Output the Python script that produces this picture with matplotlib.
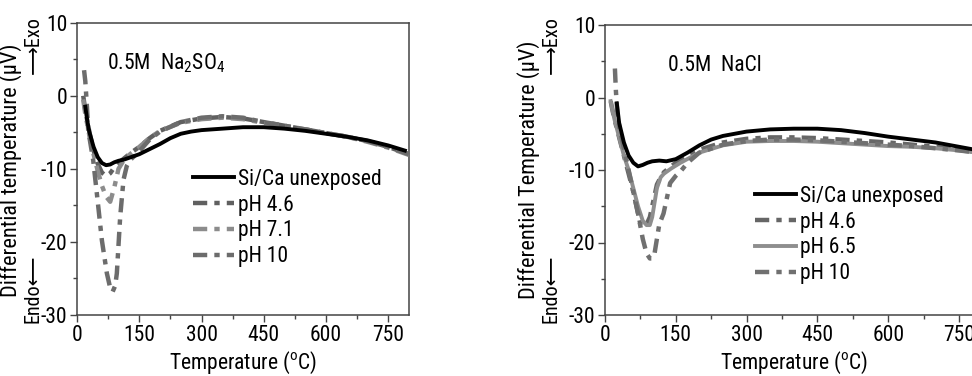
import matplotlib
matplotlib.use("Agg")
import matplotlib.pyplot as plt
from matplotlib.ticker import MultipleLocator
from matplotlib import font_manager

_avail = {f.name for f in font_manager.fontManager.ttflist}
_main = next((n for n in ['Roboto Condensed', 'Liberation Sans Narrow', 'Open Sans Condensed',
                          'Roboto', 'Liberation Sans'] if n in _avail), 'DejaVu Sans')
FONT = [_main, 'DejaVu Sans']
plt.rcParams['font.family'] = FONT
plt.rcParams['mathtext.fontset'] = 'custom'
plt.rcParams['mathtext.rm'] = _main
plt.rcParams['mathtext.it'] = _main
plt.rcParams['axes.unicode_minus'] = False

# ---------------- Left panel: 0.5M Na2SO4 ----------------
left_title = "0.5M  Na$_2$SO$_4$"
left_ylabel = "Differential temperature (\u00b5V)"
left_labels = ["Si/Ca unexposed", "pH 4.6", "pH 7.1", "pH 10"]

L_unexp_T = [20, 25, 30, 40, 50, 60, 70, 80, 90, 100, 115, 130, 150, 175, 200, 225, 250, 275, 300, 350, 400, 450, 500, 550, 600, 650, 700, 750, 790]
L_unexp_V = [-1.5, -3.5, -5.0, -7.0, -8.4, -9.2, -9.5, -9.4, -9.1, -8.9, -8.7, -8.4, -8.0, -7.3, -6.6, -5.8, -5.2, -4.9, -4.7, -4.5, -4.3, -4.3, -4.5, -4.8, -5.2, -5.6, -6.1, -6.8, -7.5]

L_ph46_T = [15, 20, 30, 40, 50, 60, 70, 80, 90, 100, 115, 130, 150, 175, 200, 250, 300, 350, 400, 450, 500, 550, 600, 650, 700, 750, 800]
L_ph46_V = [0.0, -2.0, -5.0, -7.5, -9.3, -10.5, -11.0, -10.6, -9.8, -9.2, -8.5, -7.8, -7.0, -5.8, -4.8, -3.6, -3.1, -2.9, -3.1, -3.6, -4.1, -4.6, -5.1, -5.6, -6.2, -7.0, -8.0]

L_ph71_T = [15, 20, 30, 40, 50, 60, 70, 80, 90, 100, 115, 130, 150, 175, 200, 250, 300, 350, 400, 450, 500, 550, 600, 650, 700, 750, 800]
L_ph71_V = [-0.5, -2.5, -5.5, -8.0, -10.3, -12.3, -13.8, -14.5, -12.5, -10.0, -8.6, -7.9, -7.0, -5.8, -4.8, -3.7, -3.2, -3.0, -3.2, -3.7, -4.1, -4.6, -5.1, -5.6, -6.3, -7.1, -8.1]

L_ph10_T = [17, 20, 24, 27, 39, 50, 60, 72, 80, 86, 92, 96, 104, 112, 120, 128, 150, 175, 200, 250, 300, 350, 400, 450, 500, 550, 600, 650, 700, 750, 800]
L_ph10_V = [3.5, 2.0, -1.5, -4.7, -8.8, -14.5, -19.8, -24.3, -26.3, -26.8, -26.0, -24.3, -16.6, -11.5, -9.6, -8.8, -7.6, -6.0, -4.9, -3.6, -3.0, -2.8, -3.0, -3.6, -4.1, -4.6, -5.1, -5.6, -6.2, -7.0, -8.0]

# ---------------- Right panel: 0.5M NaCl ----------------
right_title = "0.5M  NaCl"
right_ylabel = "Differential Temperature (\u00b5V)"
right_labels = ["Si/Ca unexposed", "pH 4.6", "pH 6.5", "pH 10"]

R_unexp_T = [25, 30, 40, 50, 60, 70, 80, 90, 100, 115, 130, 150, 175, 200, 225, 250, 300, 350, 400, 450, 500, 550, 600, 650, 700, 750, 800]
R_unexp_V = [-0.8, -3.5, -6.2, -8.0, -9.0, -9.5, -9.3, -9.0, -8.8, -8.7, -8.8, -8.5, -7.6, -6.6, -5.8, -5.3, -4.7, -4.4, -4.3, -4.3, -4.5, -4.9, -5.4, -5.8, -6.2, -6.8, -7.4]

R_ph46_T = [12, 15, 20, 30, 40, 50, 60, 70, 75, 80, 88, 95, 100, 105, 110, 118, 125, 140, 160, 200, 250, 300, 350, 400, 450, 500, 550, 600, 650, 700, 750, 800]
R_ph46_V = [-0.5, -1.5, -3.0, -5.5, -8.0, -10.5, -13.0, -16.0, -17.5, -18.0, -17.5, -16.5, -15.0, -13.5, -12.0, -11.0, -10.3, -9.5, -8.5, -7.2, -6.2, -5.7, -5.5, -5.5, -5.6, -5.8, -6.0, -6.2, -6.5, -6.8, -7.2, -7.6]

R_ph65_T = [12, 15, 20, 30, 40, 50, 60, 70, 80, 88, 95, 100, 105, 110, 118, 125, 140, 160, 200, 250, 300, 350, 400, 450, 500, 550, 600, 650, 700, 750, 800]
R_ph65_V = [-0.5, -1.5, -3.0, -5.5, -8.0, -10.0, -12.5, -15.0, -17.0, -17.6, -17.6, -16.5, -14.5, -12.5, -11.0, -10.5, -9.8, -9.0, -7.6, -6.6, -6.1, -6.0, -6.0, -6.1, -6.3, -6.5, -6.7, -6.8, -7.0, -7.3, -7.7]

R_ph10_T = [21, 23, 26, 30, 40, 50, 60, 70, 80, 88, 95, 100, 105, 110, 115, 124, 138, 150, 160, 175, 200, 250, 300, 350, 400, 450, 500, 550, 600, 650, 700, 750, 800]
R_ph10_V = [4.0, 1.0, -2.0, -4.0, -7.0, -10.0, -13.0, -16.0, -19.5, -21.5, -22.2, -22.2, -21.5, -19.5, -17.5, -16.0, -11.8, -10.8, -10.2, -9.0, -7.6, -6.5, -6.0, -5.8, -5.8, -5.9, -6.1, -6.3, -6.5, -6.7, -7.0, -7.3, -7.7]

x_ticks = [0, 150, 300, 450, 600, 750]
y_ticks = [-30, -20, -10, 0, 10]
xlabel = "Temperature ($^{\\mathrm{o}}$C)"

FS = 15.5
DASHDOT = (0, (3.2, 1.6, 1.2, 1.6))

fig = plt.figure(figsize=(9.72, 3.76), dpi=100)
axL = fig.add_axes([77/972, 61/376, 332/972, 292.3/376])
axR = fig.add_axes([605/972, 61/376, 377.6/972, 290/376])


def style(ax):
    ax.set_xlim(0, 800)
    ax.set_ylim(-30, 10)
    ax.set_xticks(x_ticks)
    ax.set_yticks(y_ticks)
    ax.xaxis.set_minor_locator(MultipleLocator(75))
    ax.yaxis.set_minor_locator(MultipleLocator(5))
    ax.tick_params(which='both', direction='out', top=False, right=False,
                   labelsize=FS, color='#444444', width=1)
    ax.tick_params(which='major', length=5, pad=2)
    ax.tick_params(which='minor', length=3)
    for s in ax.spines.values():
        s.set_color('#444444')
        s.set_linewidth(1.1)
    ax.set_xlabel(xlabel, fontsize=FS, labelpad=3)


# left
axL.plot(L_unexp_T, L_unexp_V, color='black', lw=2.8, label=left_labels[0], zorder=4)
axL.plot(L_ph46_T, L_ph46_V, color='#606060', lw=3.2, ls=DASHDOT, label=left_labels[1], zorder=3)
axL.plot(L_ph71_T, L_ph71_V, color='#8c8c8c', lw=3.2, ls=DASHDOT, label=left_labels[2], zorder=3)
axL.plot(L_ph10_T, L_ph10_V, color='#6c6c6c', lw=3.2, ls=DASHDOT, label=left_labels[3], zorder=3)
style(axL)
axL.text(0.09, 0.86, left_title, transform=axL.transAxes, fontsize=FS, ha='left', va='center')
axL.legend(loc='upper left', bbox_to_anchor=(0.35, 0.50), frameon=False, fontsize=FS,
           handlelength=1.9, handletextpad=0.2, labelspacing=0.22, borderpad=0, borderaxespad=0)

# right
axR.plot(R_unexp_T, R_unexp_V, color='black', lw=2.8, label=right_labels[0], zorder=4)
axR.plot(R_ph46_T, R_ph46_V, color='#666666', lw=3.2, ls=DASHDOT, label=right_labels[1], zorder=3)
axR.plot(R_ph65_T, R_ph65_V, color='#8e8e8e', lw=2.8, ls='-', label=right_labels[2], zorder=3)
axR.plot(R_ph10_T, R_ph10_V, color='#707070', lw=3.2, ls=DASHDOT, label=right_labels[3], zorder=3)
style(axR)
axR.text(0.167, 0.86, right_title, transform=axR.transAxes, fontsize=FS, ha='left', va='center')
axR.legend(loc='upper left', bbox_to_anchor=(0.397, 0.445), frameon=False, fontsize=FS,
           handlelength=1.9, handletextpad=0.2, labelspacing=0.22, borderpad=0, borderaxespad=0)

# y labels (two lines, rotated)
def ylab(x1, x2, text):
    fig.text(x1/972, 1 - 170/376, text, rotation=90, ha='center', va='center', fontsize=16)
    fig.text(x2/972, 1 - 323/376, "Endo\u27f5", rotation=90, ha='center', va='bottom',
             fontsize=14.5, family=FONT)
    fig.text(x2/972, 1 - 16/376, "\u27f6Exo", rotation=90, ha='center', va='top',
             fontsize=14.5, family=FONT)

ylab(11, 33, left_ylabel)
ylab(529, 551, right_ylabel)

fig.savefig("out.png", dpi=100)
